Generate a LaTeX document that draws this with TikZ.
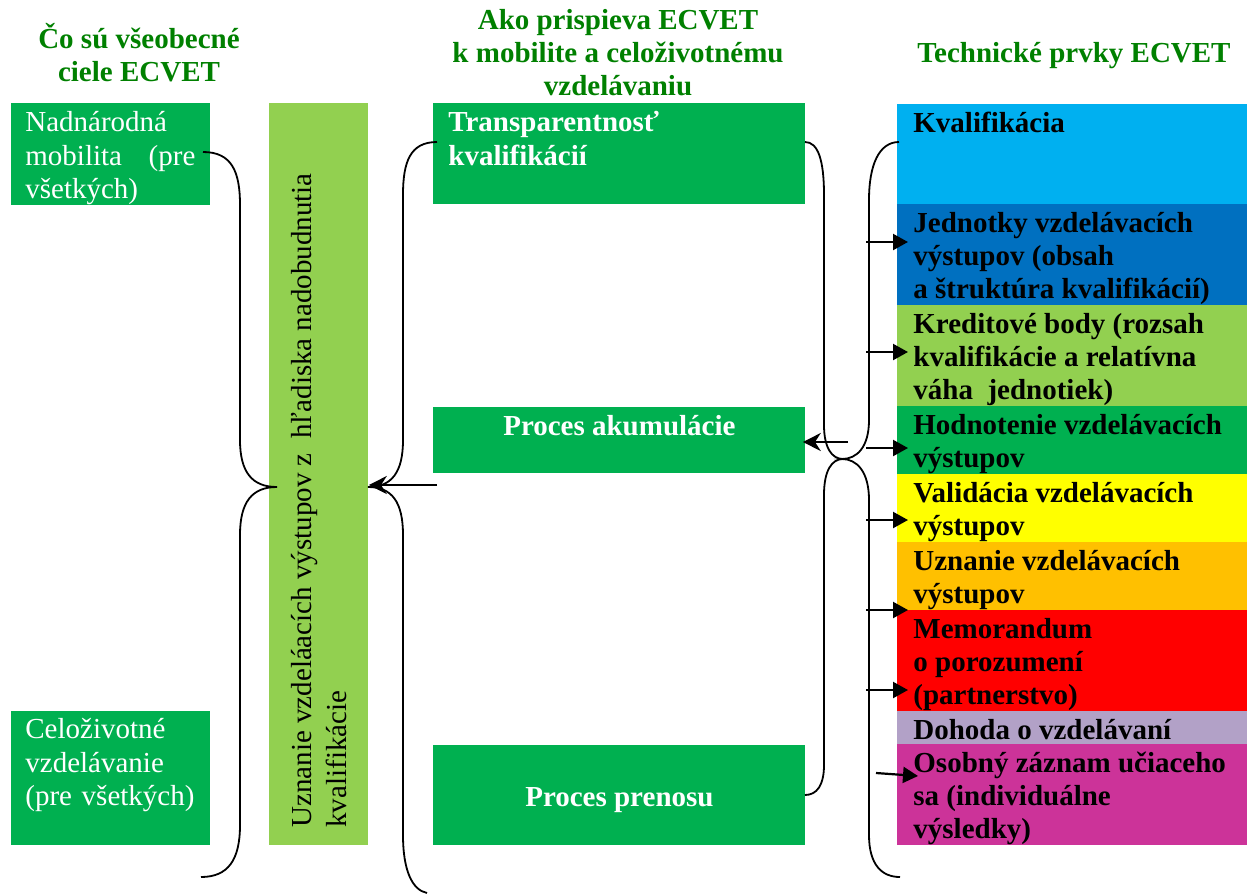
\documentclass[tikz,border=0pt]{standalone}
\usepackage{fontspec}
\setmainfont{Liberation Serif}
\usepackage{tikz}
\usetikzlibrary{arrows.meta}
\definecolor{head-green}{RGB}{0,128,0}
\definecolor{box-green}{RGB}{0,176,80}
\definecolor{bar-green}{RGB}{146,208,80}
\definecolor{kval-blue}{RGB}{0,176,240}
\definecolor{unit-blue}{RGB}{0,112,192}
\definecolor{cred-green}{RGB}{146,208,80}
\definecolor{eval-green}{RGB}{0,176,80}
\definecolor{valid-yellow}{RGB}{255,255,0}
\definecolor{recog-orange}{RGB}{255,192,0}
\definecolor{memo-red}{RGB}{255,0,0}
\definecolor{agree-lilac}{RGB}{178,161,199}
\definecolor{record-pink}{RGB}{204,51,153}
\tikzset{
    head-text/.style = {text=head-green, font=\fontsize{14.5}{16.5}\selectfont\bfseries, align=center, anchor=north, inner sep=0pt},
    goal-box/.style = {rectangle, fill=box-green, inner sep=0pt, anchor=north west, minimum width=99.5pt},
    goal-text/.style = {text=white, font=\fontsize{14.5}{16.75}\selectfont, text width=85pt, align=left, anchor=north west, inner sep=0pt},
    way-box/.style = {rectangle, fill=box-green, inner sep=0pt, anchor=north west, minimum width=186pt, text=white, font=\fontsize{14.5}{16.75}\selectfont\bfseries},
    way-text/.style = {text=white, font=\fontsize{14.5}{16.75}\selectfont\bfseries, align=left, inner sep=0pt},
    elem-box/.style = {rectangle, inner sep=0pt, anchor=north west, minimum width=175pt},
    elem-text/.style = {font=\fontsize{14.5}{16.5}\selectfont\bfseries, align=left, anchor=north west, inner sep=0pt},
    brace-line/.style = {line width=0.9pt},
    elem-arrow/.style = {-{Triangle[length=7.5pt,width=8pt]}, line width=1.1pt},
    back-arrow/.style = {-{Stealth[length=9pt,width=9pt]}, line width=1.1pt},
}
\begin{document}
\begin{tikzpicture}[x=0.5pt, y=-0.5pt]
\useasboundingbox (0,0) rectangle (1247,894);

\node[head-text] (h-goals) at (139,23) {Čo sú všeobecné\\ ciele ECVET};
\node[head-text] (h-ways) at (618,9) {Ako prispieva ECVET\\ k mobilite a celoživotnému\\ vzdelávaniu};
\node[head-text] (h-tech) at (1074,42) {Technické prvky ECVET};

\node[goal-box, minimum height=51pt] (nad) at (11,103) {};
\node[goal-text] (nad-t) at ([xshift=7pt,yshift=-4pt]nad.north west) {Nadnárodná\\ mobilita\hfill(pre\\ všetkých)};
\node[goal-box, minimum height=67pt] (cel) at (11,711) {};
\node[goal-text] (cel-t) at ([xshift=7pt,yshift=-3.5pt]cel.north west) {Celoživotné\\ vzdelávanie\\ (pre všetkých)};

\node[rectangle, fill=bar-green, inner sep=0pt, anchor=north west, minimum width=49.5pt, minimum height=371pt] (bar) at (269,103) {};
\node[rotate=90, anchor=south west, align=left, inner sep=0pt, font=\fontsize{14.5}{17.5}\selectfont] (bar-t) at (347,828) {Uznanie vzdeláacích výstupov z\ \ hľadiska nadobudnutia\\ kvalifikácie};

\node[way-box, minimum height=50.5pt] (trans) at (433,103) {};
\node[way-text, anchor=north west] (trans-t) at ([xshift=7.5pt,yshift=-4pt]trans.north west) {Transparentnosť\\ kvalifikácií};
\node[way-box, minimum height=33pt] (akum) at (433,407) {};
\node[way-text, anchor=north] (akum-t) at ([yshift=-4pt]akum.north) {Proces akumulácie};
\node[way-box, minimum height=50pt] (pren) at (433,745) {};
\node[way-text] (pren-t) at ([yshift=-2.5pt]pren.center) {Proces prenosu};

\foreach \nm/\ytop/\hgt/\col/\txt in {
    kval/104/50/kval-blue/{Kvalifikácia},
    unit/204/50.5/unit-blue/{Jednotky vzdelávacích\\ výstupov (obsah\\ a štruktúra kvalifikácií)},
    cred/305/50.5/cred-green/{Kreditové body (rozsah\\ kvalifikácie a relatívna\\ váha\ \ jednotiek)},
    eval/406/34/eval-green/{Hodnotenie vzdelávacích\\ výstupov},
    valid/474/34/valid-yellow/{Validácia vzdelávacích\\ výstupov},
    recog/542/34/recog-orange/{Uznanie vzdelávacích\\ výstupov},
    memo/610/50.5/memo-red/{Memorandum\\ o porozumení\\ (partnerstvo)},
    agree/711/16.5/agree-lilac/{Dohoda o vzdelávaní},
    record/744/50.5/record-pink/{Osobný záznam učiaceho\\ sa (individuálne\\ výsledky)}}{
    \node[elem-box, fill=\col, minimum height=\hgt pt] (\nm) at (897,\ytop) {};
    \node[elem-text] (\nm-t) at ([xshift=8pt,yshift=-4pt]\nm.north west) {\txt};
}

% braces
\draw[brace-line] (203,152) .. controls (232,152) and (240,172) .. (240,205)
    -- (240,440) .. controls (240,472) and (252,487) .. (277,487)
    .. controls (252,487) and (240,502) .. (240,535)
    -- (240,825) .. controls (240,860) and (228,877) .. (201,877);
\draw[brace-line] (437,142) .. controls (410,142) and (403,162) .. (403,195)
    -- (403,440) .. controls (403,472) and (392,487) .. (368,487)
    .. controls (392,487) and (403,502) .. (403,535)
    -- (403,835) .. controls (403,870) and (412,890) .. (427,893);
\draw[brace-line] (805,142) .. controls (818,142) and (824,160) .. (824,195)
    -- (824,425) .. controls (824,448) and (832,459) .. (843,459)
    .. controls (832,459) and (824,470) .. (824,495)
    -- (824,765) .. controls (824,785) and (817,795) .. (805,795);
\draw[brace-line] (899,142) .. controls (879,142) and (869,165) .. (869,200)
    -- (869,420) .. controls (869,447) and (857,459) .. (842,459)
    .. controls (857,459) and (869,472) .. (869,500)
    -- (869,835) .. controls (869,865) and (882,877) .. (900,877);

% arrows
\coordinate (mid-in) at (437,485);
\coordinate (akum-in) at (848,442);
\coordinate (elem-in) at (866,0);
\draw[back-arrow] (mid-in) -- (bar.east |- mid-in);
\draw[back-arrow, shorten >=-1.5pt] (akum-in) -- (akum.east |- akum-in);
\foreach \nm/\y in {unit/242, cred/352, eval/448, valid/520, memo/610, memo/690}
    \draw[elem-arrow, shorten >=-5.5pt] (elem-in |- 0,\y) -- (\nm.west |- 0,\y);
\draw[elem-arrow] (876,773) -- ([xshift=10.5pt,yshift=-16pt]record.north west);
\end{tikzpicture}
\end{document}
